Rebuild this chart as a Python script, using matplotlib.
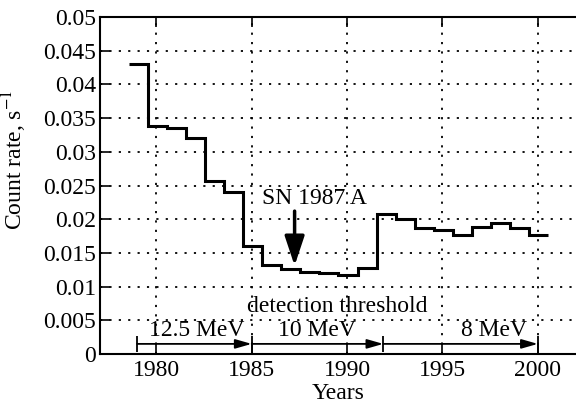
import matplotlib
matplotlib.use("Agg")
import matplotlib.pyplot as plt
import numpy as np

# Data
bin_edges = [1978.55 + k for k in range(23)]
count_rate = [0.0431, 0.0338, 0.0335, 0.0320, 0.0256, 0.0241, 0.0160, 0.0132,
              0.0126, 0.0122, 0.0120, 0.0117, 0.0127, 0.0208, 0.0200, 0.0187,
              0.0184, 0.0176, 0.0189, 0.0194, 0.0187, 0.0177]
threshold_edges = [1979.0, 1985.0, 1991.9, 2000.0]
threshold_labels = ["12.5 MeV", "10 MeV", "8 MeV"]
threshold_label_x = [1982.1, 1988.4, 1997.7]
x_ticks = [1980, 1985, 1990, 1995, 2000]
y_ticks = [0, 0.005, 0.01, 0.015, 0.02, 0.025, 0.03, 0.035, 0.04, 0.045, 0.05]
y_tick_labels = ["0", "0.005", "0.01", "0.015", "0.02", "0.025", "0.03",
                 "0.035", "0.04", "0.045", "0.05"]
sn_year = 1987.25
sn_rate = 0.0131

FS = 17
plt.rcParams['font.family'] = ['Liberation Serif', 'DejaVu Serif']
plt.rcParams['mathtext.fontset'] = 'stix'

fig = plt.figure(figsize=(5.76, 4.08), dpi=100)
ax = fig.add_axes([100/576, 1-354/408, 1-100/576, (354-17)/408])

ax.stairs(count_rate, bin_edges, baseline=None, color='black', lw=2.2)

ax.set_xlim(1977.05, 2002.0)
ax.set_ylim(0, 0.05)
ax.set_xticks(x_ticks)
ax.set_yticks(y_ticks)
ax.set_yticklabels(y_tick_labels)
ax.grid(True, color='black', linestyle=(0, (1.2, 4)), lw=1.3)
ax.tick_params(direction='in', length=7, width=1.2, labelsize=FS, top=True,
               right=False)
ax.tick_params(axis='y', pad=3)
ax.tick_params(axis='x', pad=4)
for s in ['left', 'bottom', 'top']:
    ax.spines[s].set_linewidth(1.5)
ax.spines['right'].set_visible(False)

ax.set_xlabel("Years", fontsize=FS, labelpad=2)
ax.set_ylabel("Count rate, s$^{-1}$", fontsize=FS)
ax.yaxis.set_label_coords(-0.15, 0.575)

# threshold arrows
ty = 0.0015
for a, b in zip(threshold_edges[:-1], threshold_edges[1:]):
    ax.annotate('', xy=(b, ty), xytext=(a, ty),
                arrowprops=dict(arrowstyle='-|>,head_length=0.7,head_width=0.2',
                                color='black', lw=1.3, shrinkA=0, shrinkB=0,
                                mutation_scale=14))
for lx, lab in zip(threshold_label_x, threshold_labels):
    ax.text(lx, 0.0019, lab, ha='center', va='bottom', fontsize=FS)
ax.vlines(threshold_edges, 0.0003, 0.0027, color='black', lw=1.3)
ax.text(1989.5, 0.0070, "detection threshold", ha='center', va='center', fontsize=FS)

# SN 1987 A
ax.text(1988.3, 0.0231, "SN 1987 A", ha='center', va='center', fontsize=FS)
ax.annotate('', xy=(sn_year, sn_rate), xytext=(sn_year, 0.0212),
            arrowprops=dict(arrowstyle='-|>,head_length=0.9,head_width=0.3',
                            color='black', lw=2.5, shrinkA=0, shrinkB=0,
                            mutation_scale=20))

fig.savefig("out.png", dpi=100)
